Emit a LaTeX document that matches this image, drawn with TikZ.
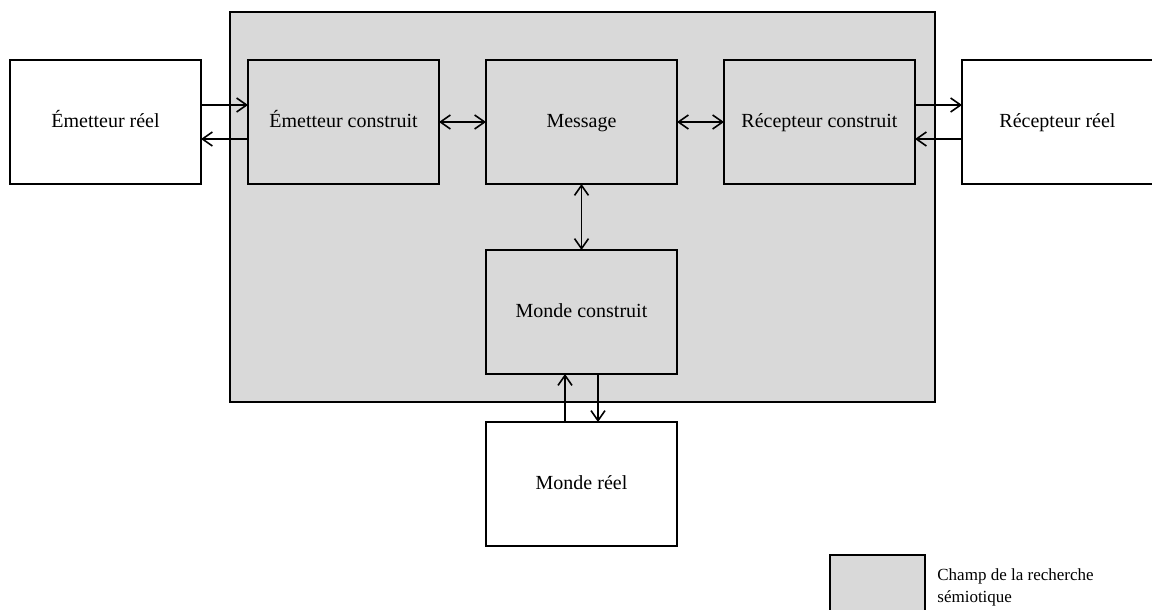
\documentclass[tikz,border=0pt]{standalone}
\usepackage{fontspec}
\setmainfont{Liberation Serif}
\usetikzlibrary{arrows.meta,positioning}
\definecolor{champgris}{RGB}{217,217,217}

\begin{document}
\begin{tikzpicture}[x=0.5pt, y=-0.5pt, >={Straight Barb[length=5pt,width=7pt]},
  boite/.style={draw, line width=1pt, outer sep=0pt, inner sep=0pt,
    minimum width=95.5pt, minimum height=62pt, text height=7.5pt, text depth=2pt,
    font=\fontsize{10}{12}\selectfont},
  reel/.style={boite, fill=white},
  construit/.style={boite, fill=champgris},
  fleche/.style={line width=0.8pt}]
  \useasboundingbox (0,0) rectangle (1152,610);
  % champ de la recherche semiotique
  \draw [line width=1pt, fill=champgris] (230,12) rectangle (935,402);
  % boites
  \node [reel] (er) at (105.5,122) {Émetteur réel};
  \node [construit, right=23.5pt of er] (ec) {Émetteur construit};
  \node [construit, right=23.5pt of ec] (msg) {Message};
  \node [construit, right=23.5pt of msg] (rc) {Récepteur construit};
  \node [reel, right=23.5pt of rc] (rr) {Récepteur réel};
  \node [construit, below=33pt of msg] (mc) {Monde construit};
  \node [reel, below=24pt of mc] (mr) {Monde réel};
  % fleches
  \draw [fleche,->] ([yshift=8.5pt]er.east) -- ([yshift=8.5pt]ec.west);
  \draw [fleche,->] ([yshift=-8.5pt]ec.west) -- ([yshift=-8.5pt]er.east);
  \draw [fleche,<->] (ec) -- (msg);
  \draw [fleche,<->] (msg) -- (rc);
  \draw [fleche,->] ([yshift=8.5pt]rc.east) -- ([yshift=8.5pt]rr.west);
  \draw [fleche,->] ([yshift=-8.5pt]rr.west) -- ([yshift=-8.5pt]rc.east);
  \draw [fleche,<->] (msg) -- (mc);
  \draw [fleche,->] ([xshift=-8.25pt]mr.north) -- ([xshift=-8.25pt]mc.south);
  \draw [fleche,->] ([xshift=8.25pt]mc.south) -- ([xshift=8.25pt]mr.north);
  % legende
  \draw [line width=1pt, fill=champgris] (830,555) rectangle (925,620);
  \node [anchor=west, align=left, inner sep=0pt, font=\fontsize{8.5}{11}\selectfont]
    (legende) at (937,587) {Champ de la recherche\\sémiotique};
\end{tikzpicture}
\end{document}
